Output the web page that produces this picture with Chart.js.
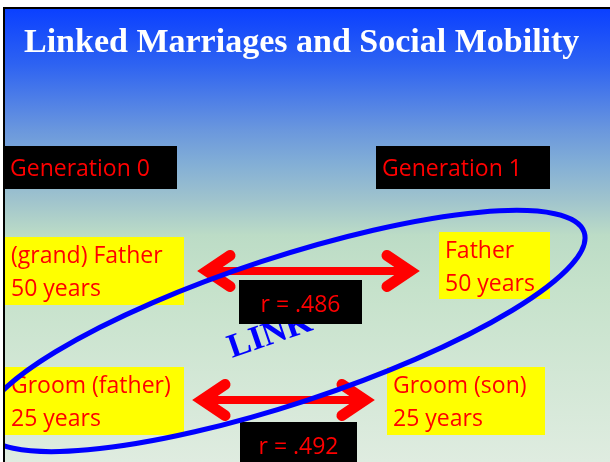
<!DOCTYPE html>
<html>
<head>
<meta charset="utf-8">
<title>Linked Marriages and Social Mobility</title>
<script src="https://cdn.jsdelivr.net/npm/chart.js@4.4.1/dist/chart.umd.min.js"></script>
<style>
  html, body { margin: 0; padding: 0; background: #fff; overflow: hidden; }
  canvas { display: block; }
</style>
</head>
<body>
<canvas id="slide" width="610" height="462"></canvas>
<script>
// slide texts and values
const title = 'Linked Marriages and Social Mobility';
const generations = ['Generation 0', 'Generation 1'];
const fathers = ['(grand) Father', 'Father'];
const grooms = ['Groom (father)', 'Groom (son)'];
const ages = ['50 years', '25 years'];
const correlations = [0.486, 0.492];
const linkLabel = 'LINK';

// layout, in slide units (the scales map them to the canvas)
const slide = { x: 5, y: 9, w: 605, h: 453 };
const headerBoxes = [{ x: 4, y: 146, w: 173, h: 43 }, { x: 376, y: 146, w: 174, h: 43 }];
const rowBoxes = [
    [{ x: 5, y: 237, w: 179, h: 68 }, { x: 439, y: 232, w: 111, h: 67 }],
    [{ x: 5, y: 367, w: 179, h: 68 }, { x: 387, y: 367, w: 158, h: 68 }]
];
const arrowY = [271, 400];
const arrowGap = [[13, 19], [8, 12]]; // space left/right of the arrow tips
const rBoxes = [{ x: 239, y: 280, w: 123, h: 44 }, { x: 240, y: 422, w: 117, h: 46 }];
const ring = { cx: 284, cy: 331, rx: 316, ry: 73, rot: -18.2 };
const linkPos = { x: 232, y: 358, rot: -19 };

const RED = '#ff0000';
const BODY_FONT = '23px "Open Sans"';

// arrow datasets (shaft + two chevrons per row)
function arrowDatasets() {
    const sets = [];
    arrowY.forEach((y, i) => {
        const left = rowBoxes[i][0].x + rowBoxes[i][0].w + arrowGap[i][0];
        const right = rowBoxes[i][1].x - arrowGap[i][1];
        const inset = 10, armX = 33, armY = 15.5;
        const base = {
            showLine: true, fill: false, tension: 0, pointRadius: 0, pointHoverRadius: 0,
            borderColor: RED, clip: false
        };
        sets.push(Object.assign({}, base, {
            data: [{ x: left + inset, y: y }, { x: right - inset, y: y }],
            borderWidth: 8, borderCapStyle: 'butt'
        }));
        sets.push(Object.assign({}, base, {
            data: [{ x: left + armX, y: y - armY }, { x: left + inset, y: y }, { x: left + armX, y: y + armY }],
            borderWidth: 11, borderCapStyle: 'round', borderJoinStyle: 'miter'
        }));
        sets.push(Object.assign({}, base, {
            data: [{ x: right - armX, y: y - armY }, { x: right - inset, y: y }, { x: right - armX, y: y + armY }],
            borderWidth: 11, borderCapStyle: 'round', borderJoinStyle: 'miter'
        }));
    });
    return sets;
}

function fmtR(v) {
    return 'r = ' + v.toFixed(3).replace(/^0/, '');
}

const slidePlugin = {
    id: 'slideDrawing',
    beforeDatasetsDraw(chart) {
        const ctx = chart.ctx;
        const sx = v => chart.scales.x.getPixelForValue(v);
        const sy = v => chart.scales.y.getPixelForValue(v);
        const rect = (b, color) => {
            ctx.fillStyle = color;
            ctx.fillRect(sx(b.x), sy(b.y), sx(b.x + b.w) - sx(b.x), sy(b.y + b.h) - sy(b.y));
        };

        ctx.save();
        ctx.fillStyle = '#ffffff';
        ctx.fillRect(0, 0, chart.width, chart.height);

        // fondo degradado
        const g = ctx.createLinearGradient(0, sy(slide.y), 0, sy(slide.y + slide.h));
        g.addColorStop(0, '#0b40ff');
        g.addColorStop(0.12, '#2d62f2');
        g.addColorStop(0.27, '#6b98dd');
        g.addColorStop(0.34, '#82aed6');
        g.addColorStop(0.42, '#9fc3cd');
        g.addColorStop(0.5, '#bcdcc6');
        g.addColorStop(0.62, '#c6e2cb');
        g.addColorStop(1, '#dfece0');
        rect(slide, g);

        // borde superior e izquierdo
        ctx.fillStyle = '#000000';
        ctx.fillRect(sx(3), sy(7), sx(610) - sx(3), 2);
        ctx.fillRect(sx(3), sy(7), 2, sy(462) - sy(7));

        ctx.fillStyle = '#ffffff';
        ctx.font = 'bold 34px "Liberation Serif"';
        ctx.textBaseline = 'alphabetic';
        ctx.fillText(title, sx(24), sy(52));

        ctx.font = BODY_FONT;
        generations.forEach((txt, i) => {
            const b = headerBoxes[i];
            rect(b, '#000000');
            ctx.fillStyle = RED;
            ctx.fillText(txt, sx(b.x + 6), sy(b.y + 30));
        });

        const rows = [fathers, grooms];
        rows.forEach((names, r) => {
            names.forEach((name, c) => {
                const b = rowBoxes[r][c];
                rect(b, '#ffff00');
                ctx.fillStyle = RED;
                ctx.fillText(name, sx(b.x + 6), sy(b.y + 26));
                ctx.fillText(ages[r], sx(b.x + 6), sy(b.y + 59));
            });
        });
        ctx.restore();
    },
    afterDatasetsDraw(chart) {
        const ctx = chart.ctx;
        const sx = v => chart.scales.x.getPixelForValue(v);
        const sy = v => chart.scales.y.getPixelForValue(v);
        ctx.save();

        // LINK
        ctx.save();
        ctx.translate(sx(linkPos.x), sy(linkPos.y));
        ctx.rotate(linkPos.rot * Math.PI / 180);
        ctx.fillStyle = '#0000ff';
        ctx.font = 'bold 34px "Liberation Serif"';
        ctx.fillText(linkLabel, 0, 0);
        ctx.restore();

        // r boxes
        ctx.font = BODY_FONT;
        ctx.textAlign = 'center';
        correlations.forEach((v, i) => {
            const b = rBoxes[i];
            ctx.fillStyle = '#000000';
            ctx.fillRect(sx(b.x), sy(b.y), sx(b.x + b.w) - sx(b.x), sy(b.y + b.h) - sy(b.y));
            ctx.fillStyle = RED;
            ctx.fillText(fmtR(v), sx(b.x + b.w / 2), sy(b.y + 32));
        });

        // blue ring, clipped to the slide
        ctx.beginPath();
        ctx.rect(sx(slide.x), sy(slide.y), sx(slide.x + slide.w) - sx(slide.x), sy(slide.y + slide.h) - sy(slide.y));
        ctx.clip();
        ctx.beginPath();
        ctx.ellipse(sx(ring.cx), sy(ring.cy), sx(ring.cx + ring.rx) - sx(ring.cx),
            sy(ring.cy + ring.ry) - sy(ring.cy), ring.rot * Math.PI / 180, 0, Math.PI * 2);
        ctx.strokeStyle = '#0000ff';
        ctx.lineWidth = 5;
        ctx.stroke();
        ctx.restore();
    }
};

new Chart(document.getElementById('slide'), {
    type: 'scatter',
    data: { datasets: arrowDatasets() },
    options: {
        responsive: false,
        animation: false,
        events: [],
        layout: { padding: 0 },
        plugins: { legend: { display: false }, tooltip: { enabled: false } },
        scales: {
            x: { type: 'linear', min: 0, max: 610, display: false },
            y: { type: 'linear', min: 0, max: 462, reverse: true, display: false }
        }
    },
    plugins: [slidePlugin]
});
</script>
</body>
</html>
